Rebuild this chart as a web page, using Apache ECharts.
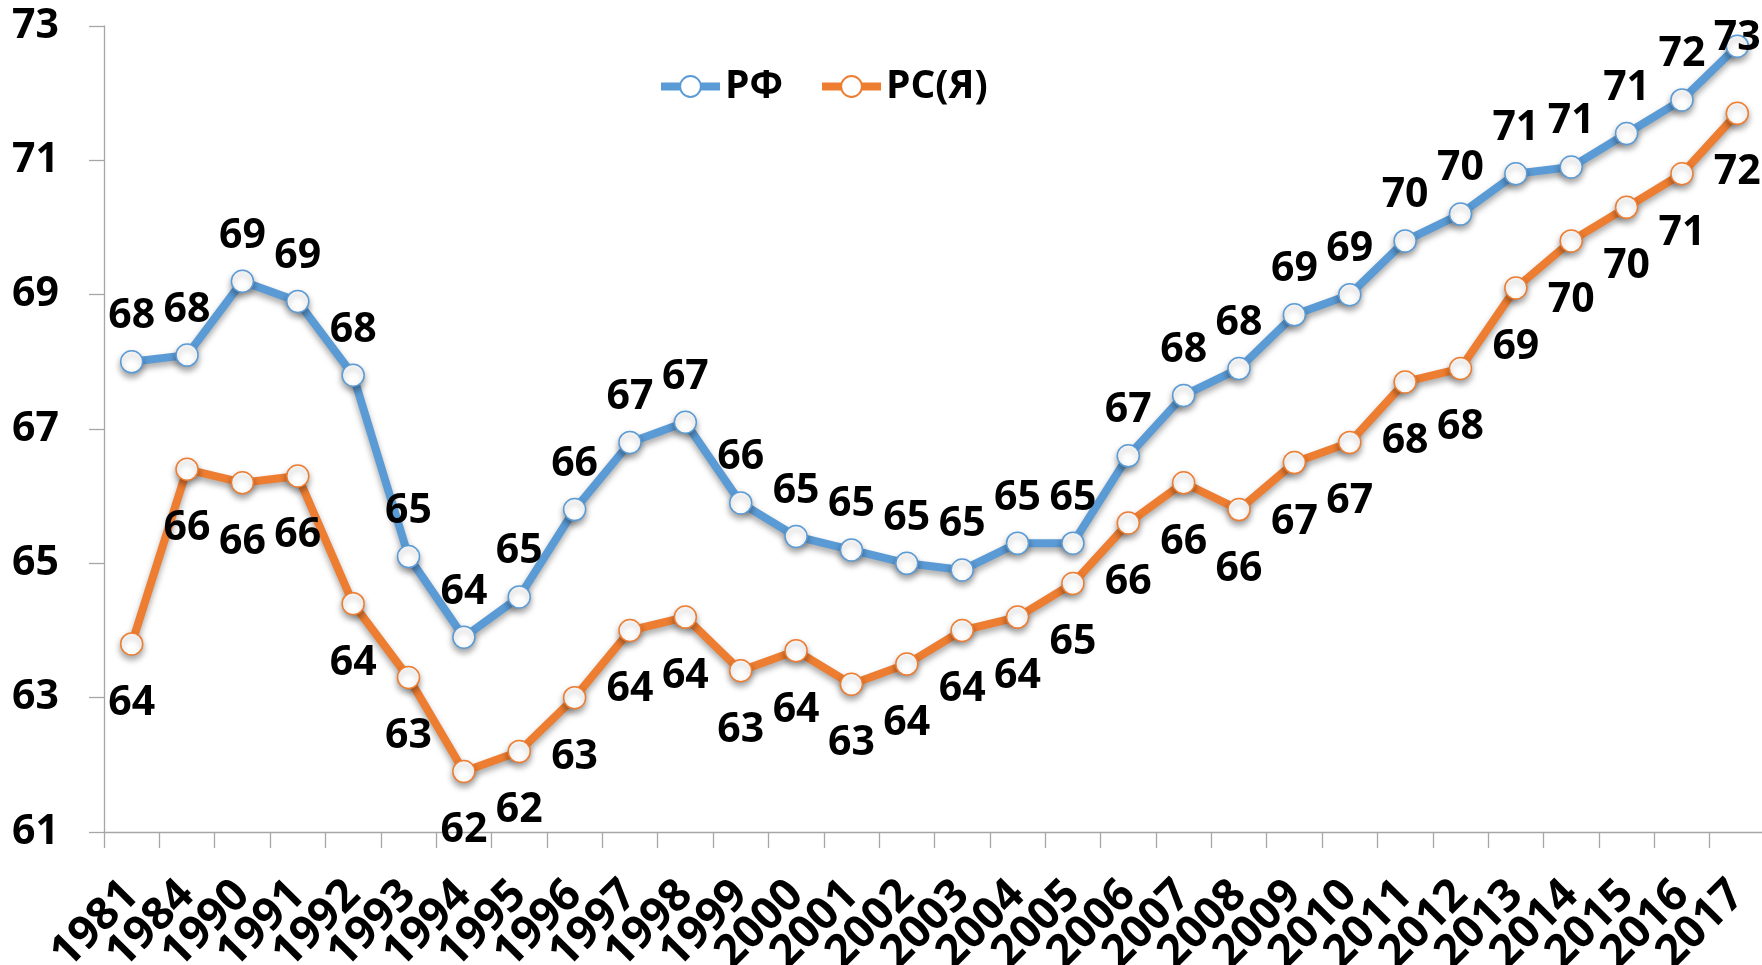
<!DOCTYPE html>
<html>
<head>
<meta charset="utf-8">
<script src="https://cdn.jsdelivr.net/npm/echarts@6/dist/echarts.min.js"></script>
<style>
html,body{margin:0;padding:0;background:#fff;}
#chart{width:1762px;height:965px;}
</style>
</head>
<body>
<div id="chart"></div>
<script>
var categories = ['1981','1984','1990','1991','1992','1993','1994','1995','1996','1997','1998','1999','2000','2001','2002','2003','2004','2005','2006','2007','2008','2009','2010','2011','2012','2013','2014','2015','2016','2017'];
var rf  = [68.0,68.1,69.2,68.9,67.8,65.1,63.9,64.5,65.8,66.8,67.1,65.9,65.4,65.2,65.0,64.9,65.3,65.3,66.6,67.5,67.9,68.7,69.0,69.8,70.2,70.8,70.9,71.4,71.9,72.7];
var rsy = [63.8,66.4,66.2,66.3,64.4,63.3,61.9,62.2,63.0,64.0,64.2,63.4,63.7,63.2,63.5,64.0,64.2,64.7,65.6,66.2,65.8,66.5,66.8,67.7,67.9,69.1,69.8,70.3,70.8,71.7];
var seriesNames = ['РФ','РС(Я)'];
var yMin = 61, yMax = 73, yStep = 2;

var FONT = '"Open Sans", "Noto Sans", sans-serif';
var BLUE = '#5B9BD5', ORANGE = '#ED7D31', AXIS = '#A6A6A6';

function lab(v){ return Math.round(v); }

function makeData(arr, lastTop){
  return arr.map(function(v,i){
    if (lastTop && i === arr.length-1) {
      return {value: v, label: {position: 'top', distance: -24}};
    }
    return v;
  });
}

var chart = echarts.init(document.getElementById('chart'), null, {renderer:'canvas'});
chart.setOption({
  animation: false,
  backgroundColor: '#ffffff',
  grid: {left: 104, right: -3, top: 26, bottom: 133, containLabel: false, outerBoundsMode: 'none'},
  legend: {
    left: 652, top: 62,
    itemWidth: 59, itemHeight: 26, itemGap: 35,
    lineStyle: {width: 8},
    textStyle: {fontFamily: FONT, fontWeight: 'bold', fontSize: 39, color: '#000'},
    data: seriesNames
  },
  xAxis: {
    type: 'category',
    data: categories,
    boundaryGap: true,
    axisLine: {lineStyle: {color: AXIS, width: 1.3}},
    axisTick: {show: true, length: 16, alignWithLabel: false, lineStyle: {color: AXIS, width: 1.3}},
    axisLabel: {interval: 0, rotate: 45, margin: 56, fontFamily: FONT, fontWeight: 'bold', fontSize: 45, color: '#000'},
    splitLine: {show: false}
  },
  yAxis: {
    type: 'value',
    min: yMin, max: yMax, interval: yStep,
    axisLine: {show: true, lineStyle: {color: AXIS, width: 1.3}},
    axisTick: {show: true, length: 15, lineStyle: {color: AXIS, width: 1.3}},
    axisLabel: {margin: 45, fontFamily: FONT, fontWeight: 'bold', fontSize: 41, color: '#000'},
    splitLine: {show: false}
  },
  series: [
    {
      name: seriesNames[0], type: 'line', data: makeData(rf, true),
      symbol: 'circle', symbolSize: 22,
      lineStyle: {color: BLUE, width: 8, shadowColor: 'rgba(0,0,0,0.35)', shadowBlur: 6, shadowOffsetY: 4},
      itemStyle: {color: '#fff', borderColor: BLUE, borderWidth: 1.5, shadowColor: 'rgba(0,0,0,0.35)', shadowBlur: 6, shadowOffsetY: 4},
      label: {show: true, position: 'top', distance: 13, formatter: function(p){return lab(p.value);},
              fontFamily: FONT, fontWeight: 'bold', fontSize: 41, color: '#000'},
      z: 3
    },
    {
      name: seriesNames[1], type: 'line', data: makeData(rsy, false),
      symbol: 'circle', symbolSize: 22,
      lineStyle: {color: ORANGE, width: 8, shadowColor: 'rgba(0,0,0,0.35)', shadowBlur: 6, shadowOffsetY: 4},
      itemStyle: {color: '#fff', borderColor: ORANGE, borderWidth: 1.5, shadowColor: 'rgba(0,0,0,0.35)', shadowBlur: 6, shadowOffsetY: 4},
      label: {show: true, position: 'bottom', distance: 27, formatter: function(p){return lab(p.value);},
              fontFamily: FONT, fontWeight: 'bold', fontSize: 41, color: '#000'},
      z: 2
    }
  ]
});
</script>
</body>
</html>
